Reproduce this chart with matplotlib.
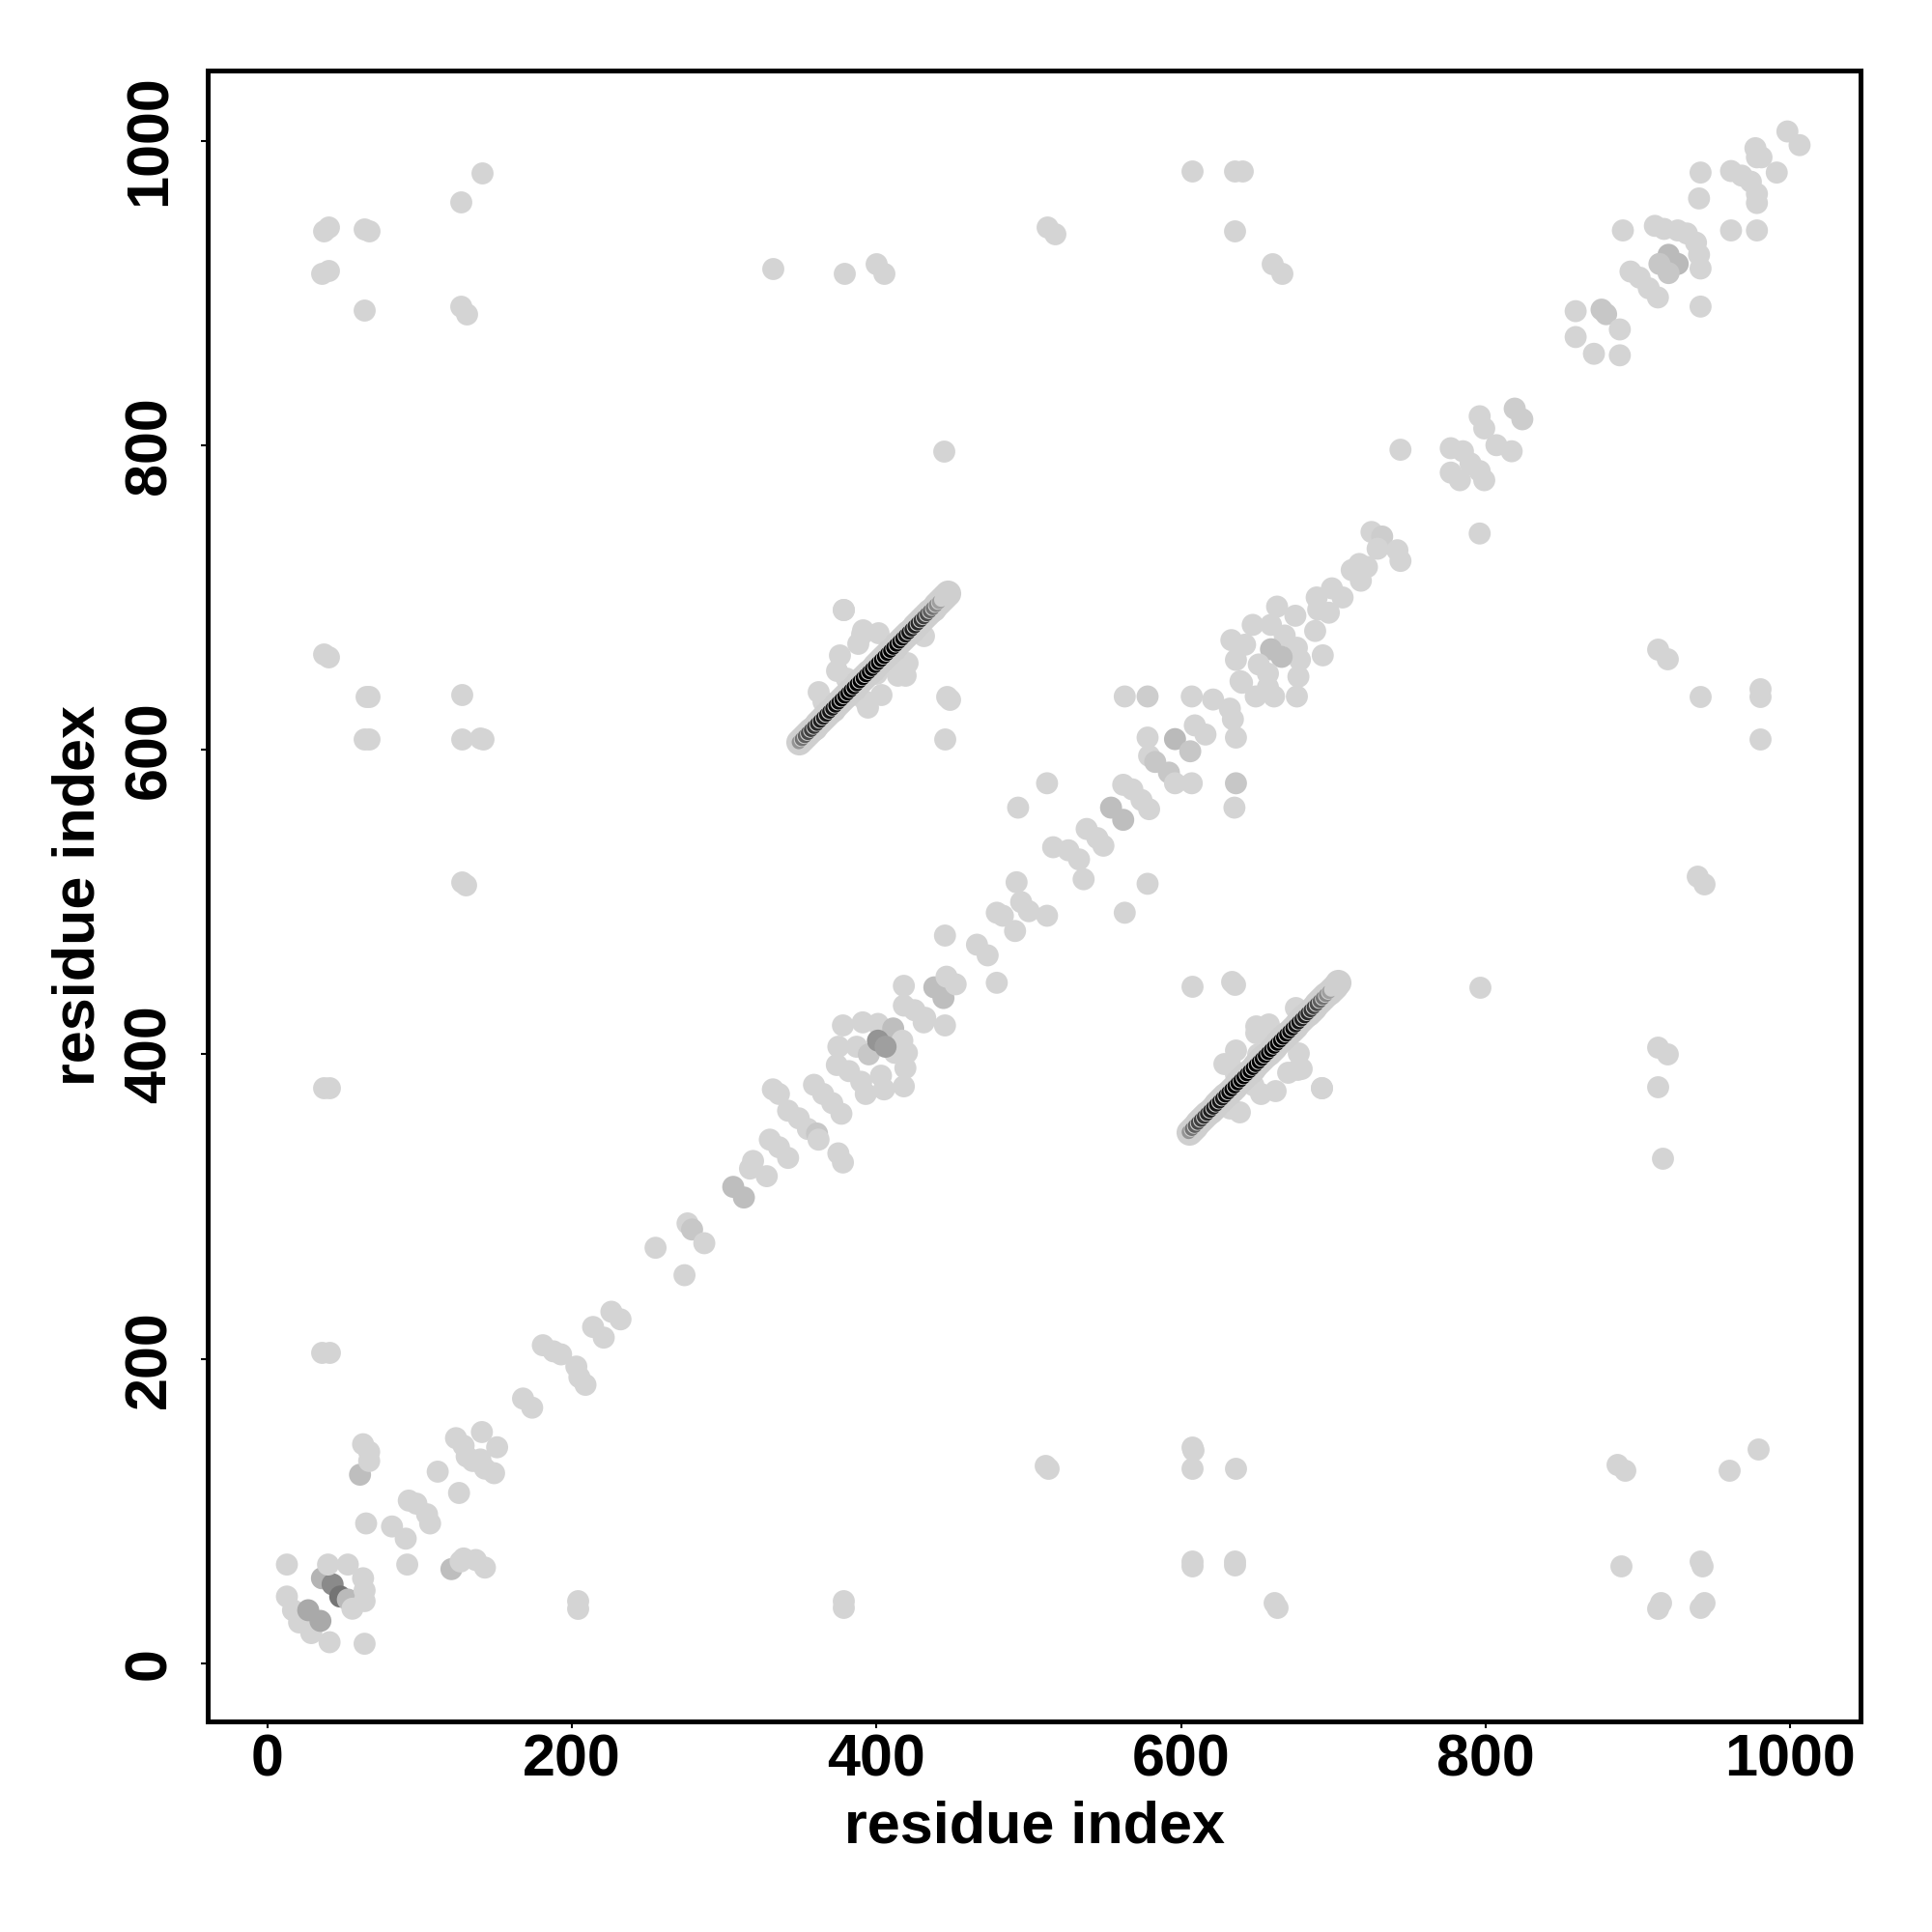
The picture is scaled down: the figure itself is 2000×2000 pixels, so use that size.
import numpy as np
import matplotlib
matplotlib.use("Agg")
import matplotlib.pyplot as plt
from matplotlib.path import Path

plt.rcParams['font.family'] = ['Liberation Sans', 'DejaVu Sans']
plt.rcParams['font.weight'] = 'bold'

# near-diagonal contacts, both halves (x, y, darkness 0..1)
diag_x = [13, 17, 21, 29, 41, 27, 35, 36, 43, 48, 53, 56, 40, 53, 63, 64, 64, 13, 64,
          65, 92, 82, 91, 93, 98, 105, 107, 112, 126, 61, 63, 67, 67, 121, 127, 129, 137, 143,
          124, 129, 131, 135, 140, 143, 149, 141, 151, 168, 174,
          181, 188, 193, 203, 205, 209, 214, 221, 226, 232,
          255, 274, 276, 279, 287, 306, 313, 317, 319, 328,
          330, 336, 342, 342, 349, 355, 361, 362, 332, 336, 359, 365, 371, 377, 375, 378,
          378, 391, 401, 411, 417, 420, 419, 418, 405, 393, 390, 382, 374, 375, 387, 395, 412, 403, 401, 406,
          418, 425, 431, 432, 445, 418, 438, 444, 446, 452,
          445, 479, 473, 466, 479, 483, 491, 492, 495, 500, 512, 563, 493, 512, 578,
          516, 526, 533, 536, 538, 545, 549, 554, 562,
          562, 568, 574, 579, 579, 583, 592, 596, 607, 636, 635,
          578, 596, 606, 609, 616,
          563, 578, 607, 621, 632, 634, 636, 639, 649, 657,
          647, 659, 668, 676, 678, 677, 676, 661, 640, 636, 642, 659, 666, 651, 657, 633,
          663, 675, 688, 693, 689, 690, 697, 699, 706,
          712, 718, 722, 717, 725, 732, 729, 742, 744, 744, 796,
          777, 785, 790, 796, 799, 777, 783, 796, 799, 807, 817, 819, 824,
          859, 876, 879, 888, 859, 871, 888, 895, 901, 907, 913,
          890, 911, 917, 926, 932, 938, 940, 941, 941, 920, 926, 914, 920,
          941, 940, 961, 978, 961, 968, 974, 978, 978, 991, 978, 977, 981, 998, 1006]
diag_y = [44, 35, 27, 20, 14, 35, 28, 56, 52, 44, 42, 36, 65, 65, 56, 48, 41, 65, 13,
          92, 65, 90, 82, 107, 105, 98, 92, 126, 112, 124, 144, 139, 133, 62, 67, 69, 68, 63,
          148, 143, 136, 133, 134, 128, 125, 152, 142, 174, 168,
          209, 205, 203, 195, 188, 183, 221, 214, 231, 226,
          273, 255, 289, 285, 276, 313, 306, 325, 330, 320,
          344, 339, 332, 363, 358, 351, 348, 344, 377, 374, 380, 374, 368, 361, 335, 329,
          419, 421, 420, 417, 409, 401, 391, 379, 377, 374, 382, 389, 393, 405, 405, 400, 401, 386, 409, 405,
          432, 429, 421, 424, 419, 445, 444, 437, 451, 446,
          478, 447, 465, 472, 493, 491, 481, 513, 500, 494, 491, 493, 562, 578, 512,
          536, 534, 528, 515, 548, 542, 537, 562, 554,
          577, 574, 567, 561, 596, 592, 585, 578, 578, 578, 562,
          608, 607, 599, 616, 610,
          635, 635, 635, 633, 627, 620, 608, 645, 635, 641,
          682, 682, 675, 667, 659, 648, 635, 635, 644, 659, 669, 666, 661, 656, 650, 672,
          694, 688, 678, 662, 700, 692, 690, 706, 700,
          718, 711, 720, 722, 743, 740, 732, 731, 724, 797, 742,
          798, 796, 788, 783, 777, 782, 777, 819, 811, 800, 796, 824, 817,
          888, 889, 886, 876, 871, 860, 859, 914, 910, 903, 897,
          941, 944, 942, 941, 939, 933, 925, 916, 891, 925, 919, 919, 913,
          979, 962, 941, 941, 980, 977, 973, 965, 959, 979, 989, 995, 989, 1006, 997]
diag_v = [0, 0, 0, 0, 0, .2, .2, .15, .35, .45, .12, 0, 0, 0, 0, 0, 0, 0, 0,
          0, 0, 0, 0, 0, 0, 0, 0, 0, 0, .1, 0, 0, 0, .1, 0, 0, 0, 0,
          0, 0, 0, 0, 0, 0, 0, 0, 0, 0, 0,
          0, 0, 0, 0, 0, 0, 0, 0, 0, 0,
          0, 0, 0, .06, 0, .1, .1, 0, 0, 0,
          0, 0, 0, 0, 0, 0, .06, 0, 0, 0, 0, 0, 0, 0, 0, 0,
          0, 0, 0, .1, 0, 0, 0, 0, 0, 0, 0, 0, 0, 0, 0, .06, 0, 0, .3, .25,
          0, 0, 0, 0, 0, 0, .1, .1, 0, 0,
          0, 0, 0, 0, 0, 0, 0, 0, 0, 0, 0, 0, 0, 0, 0,
          0, 0, 0, 0, 0, 0, 0, .1, .1,
          0, 0, 0, 0, 0, .06, .06, 0, 0, .06, 0,
          0, .12, .06, 0, 0,
          0, .03, 0, 0, 0, 0, 0, 0, 0, 0,
          0, 0, 0, 0, 0, 0, 0, 0, 0, 0, 0, .1, .1, 0, 0, 0,
          0, 0, 0, 0, 0, 0, 0, 0, 0,
          0, 0, 0, 0, 0, .03, 0, 0, 0, 0, 0,
          0, 0, 0, 0, 0, 0, 0, 0, 0, 0, 0, .03, .03,
          0, .06, .06, 0, 0, 0, 0, 0, 0, 0, 0,
          0, 0, 0, 0, 0, 0, 0, 0, 0, .12, .12, .06, .06,
          0, 0, 0, 0, 0, 0, 0, 0, 0, 0, 0, 0, 0, 0, 0]

# long-range contacts (i < j), drawn on both halves of the map
lr_i = [37, 40, 36, 40, 64, 67, 64, 127, 131, 127, 141,
        37, 40, 65, 67, 64, 67, 128, 128, 140, 142, 128, 130, 37, 41, 36, 41,
        332, 379, 400, 405, 378, 444, 445, 446, 448, 512, 517, 607, 635, 640, 635, 660, 666]
lr_j = [941, 943, 913, 915, 942, 941, 889, 891, 886, 960, 979,
        663, 661, 635, 635, 607, 607, 636, 607, 608, 607, 513, 511, 378, 378, 204, 204,
        916, 913, 919, 913, 692, 796, 607, 635, 633, 943, 939, 980, 980, 980, 941, 919, 913]

# parallel strand pairing i <-> i+256 (upper band), darkness along the strand
band_i = [349, 351, 353, 355, 357, 359, 361, 363, 365, 367, 369, 371, 373, 375, 377, 379,
          381, 383, 385, 387, 389, 391, 393, 395, 397, 399, 401, 403, 405, 407, 409, 411,
          413, 415, 417, 419, 421, 423, 425, 427, 429, 431, 433, 435, 437, 439, 441, 443, 445, 447]
band_j = [605, 607, 609, 611, 613, 615, 617, 619, 621, 623, 625, 627, 629, 631, 633, 635,
          637, 639, 641, 643, 645, 647, 649, 651, 653, 655, 657, 659, 661, 663, 665, 667,
          669, 671, 673, 675, 677, 679, 681, 683, 685, 687, 689, 691, 693, 695, 697, 699, 701, 703]
band_v = [.3, .45, .55, .65, .7, .75, .8, .85, .85, .9, .9, .9, .95, .95, 1, 1,
          1, 1, 1, 1, 1, 1, 1, 1, 1, 1, 1, 1, 1, 1, 1, 1,
          1, .95, .95, .9, .9, .85, .85, .8, .75, .7, .65, .55, .45, .35, .25, 0, 0, 0]

# lighter contacts around the strand pairing (i < j)
flank_i = [378, 391, 401, 376, 374, 380, 362, 365, 387, 393, 394, 403, 414, 419, 410, 420,
           431, 427, 400, 388, 390]
flank_j = [692, 679, 677, 662, 652, 647, 638, 632, 636, 632, 628, 636, 649, 649, 659, 657,
           675, 681, 650, 670, 676]


def grey(v):
    g = 0.83 * (1 - v)
    return (g, g, g)


def crescent(a=0.32, n=50):
    # the part of a dark disc left showing when a lighter disc,
    # shifted up-right, sits over it
    m = np.array([a / 2, a / 2])
    u = np.array([-1, 1]) / np.sqrt(2)
    L = np.sqrt(1 - (a / np.sqrt(2) / 2) ** 2)
    p1, p2 = m + L * u, m - L * u
    t1 = np.arctan2(p1[1], p1[0])
    t2 = np.arctan2(p2[1], p2[0]) + 2 * np.pi
    t = np.linspace(t1, t2, n)
    outer = np.column_stack([np.cos(t), np.sin(t)])
    f2 = np.arctan2(p2[1] - a, p2[0] - a) + 2 * np.pi
    f1 = np.arctan2(p1[1] - a, p1[0] - a)
    f = np.linspace(f2, f1, n)
    inner = np.column_stack([a + np.cos(f), a + np.sin(f)])
    verts = np.vstack([outer, inner, outer[:1]])
    codes = [Path.MOVETO] + [Path.LINETO] * (len(verts) - 2) + [Path.CLOSEPOLY]
    return Path(verts, codes)


fig = plt.figure(figsize=(20, 20), dpi=100)
ax = fig.add_axes([0.1075, 0.109, 0.8555, 0.8545])

S = 270
SB = 380
cres = crescent()

# long-range, both halves
ax.scatter(lr_i + lr_j, lr_j + lr_i, s=S, c=[grey(0)], linewidths=0)
# near-diagonal
ax.scatter(diag_x, diag_y, s=S, c=[grey(v) for v in diag_v], linewidths=0)
# flanking contacts of the strand pairing
for fx, fy in [(flank_i, flank_j), (flank_j, flank_i)]:
    ax.scatter(fx, fy, s=S, c=[grey(0)], linewidths=0)
# strand pairing: light discs, then the dark slivers of the core on top
core = [k for k, v in enumerate(band_v) if v > 0]
for bx, by in [(band_i, band_j), (band_j, band_i)]:
    ax.scatter(bx, by, s=SB, c=[grey(0.02)], linewidths=0)
    ax.scatter([bx[k] for k in core], [by[k] for k in core], s=110, marker=cres,
               c=[grey(band_v[k]) for k in core], linewidths=0)

ax.set_xlim(-39, 1046)
ax.set_ylim(-38, 1046)

ticks = [0, 200, 400, 600, 800, 1000]
ax.set_xticks(ticks)
ax.set_xticklabels([str(t) for t in ticks], fontsize=44, fontweight='bold')
ax.set_yticks(ticks)
ax.set_yticklabels([str(t) for t in ticks], fontsize=44, fontweight='bold',
                   rotation=90, va='center')
ax.tick_params(axis='both', direction='out', length=5, width=1.5)
ax.tick_params(axis='x', pad=4)
ax.tick_params(axis='y', pad=17)
for sp in ax.spines.values():
    sp.set_linewidth(3.6)

ax.set_xlabel('residue index', fontsize=44, fontweight='bold')
ax.set_ylabel('residue index', fontsize=44, fontweight='bold')
ax.xaxis.set_label_coords(0.5, -0.0644)
ax.yaxis.set_label_coords(-0.078, 0.5)
ax.xaxis.label.set_va('center')
ax.yaxis.label.set_va('center')

fig.savefig('out.png', dpi=100, facecolor='white')
